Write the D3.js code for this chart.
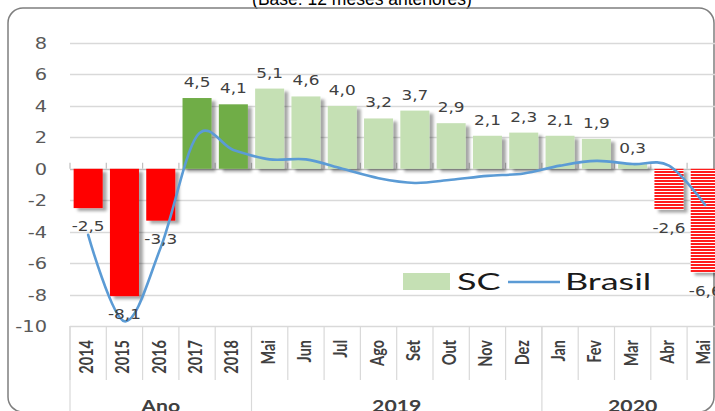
<!DOCTYPE html>
<html>
<head>
<meta charset="utf-8">
<script src="https://cdn.jsdelivr.net/npm/d3@7"></script>
<style>
  html, body { margin: 0; padding: 0; background: #fff; }
  svg { display: block; }
</style>
</head>
<body>
<div id="main"></div>
<script>
/*********************************************************
 * Data
 *********************************************************/
const categories = ['2014', '2015', '2016', '2017', '2018', 'Mai', 'Jun', 'Jul', 'Ago', 'Set', 'Out', 'Nov', 'Dez', 'Jan', 'Fev', 'Mar', 'Abr', 'Mai'];
const groupNames = ['Ano', '2019', '2020'];
const groupSizes = [5, 8, 5];
const scValues = [-2.5, -8.1, -3.3, 4.5, 4.1, 5.1, 4.6, 4.0, 3.2, 3.7, 2.9, 2.1, 2.3, 2.1, 1.9, 0.3, -2.6, -6.6];
const brasilValues = [-4.2, -9.7, -5.0, 2.1, 1.2, 0.6, 0.6, 0.0, -0.6, -0.9, -0.7, -0.45, -0.3, 0.2, 0.5, 0.3, 0.2, -2.3];
// bar style per category: year red, year green, month green, month hatched
const barKinds = ['neg', 'neg', 'neg', 'year', 'year', 'month', 'month', 'month', 'month', 'month', 'month', 'month', 'month', 'month', 'month', 'month', 'hatch', 'hatch'];
const yTicks = [-10, -8, -6, -4, -2, 0, 2, 4, 6, 8];
const titleText = '(Base: 12 meses anteriores)';

/*********************************************************
 * Layout
 *********************************************************/
const svgWidth = 715;
const svgHeight = 411;
const plot = { l: 70, r: 723.4, t: 43, b: 326 };
const stretch = 1.25; // the source picture is stretched sideways

const colors = {
  neg: '#ff0000',
  year: '#70ad47',
  month: '#c5e0b4',
  hatch: 'url(#hatch)',
  line: '#5b9bd5',
  grid: '#d9d9d9',
  text: '#404040'
};

const svg = d3
  .select('#main')
  .append('svg')
  .attr('width', svgWidth)
  .attr('height', svgHeight);

const defs = svg.append('defs');

// horizontal red stripes
const pattern = defs
  .append('pattern')
  .attr('id', 'hatch')
  .attr('patternUnits', 'userSpaceOnUse')
  .attr('width', 6)
  .attr('height', 3);
pattern.append('rect').attr('width', 6).attr('height', 3).attr('fill', '#fff');
pattern.append('rect').attr('width', 6).attr('height', 2).attr('fill', '#ff1a1a');

const shadow = defs
  .append('filter')
  .attr('id', 'shadow')
  .attr('x', '-20%')
  .attr('y', '-20%')
  .attr('width', '150%')
  .attr('height', '150%');
shadow
  .append('feDropShadow')
  .attr('dx', 4)
  .attr('dy', 3)
  .attr('stdDeviation', 1.6)
  .attr('flood-color', '#000')
  .attr('flood-opacity', 0.35);

// scales
const idx = d3.range(categories.length);
const x = d3
  .scaleBand()
  .domain(idx)
  .range([plot.l, plot.r])
  .paddingInner(0.2)
  .paddingOuter(0.1);
const step = x.step();
const edge = i => x(i) - step * 0.1; // left boundary of a category slot
const cx = i => x(i) + x.bandwidth() / 2;

const y = d3.scaleLinear().domain([-10, 8]).range([plot.b, plot.t]);

function stretchedText(parent, px, py, str) {
  return parent
    .append('text')
    .attr('transform', `translate(${px},${py}) scale(${stretch},1)`)
    .text(str);
}

// title (cut off at the top) and frame
svg
  .append('text')
  .attr('x', 362)
  .attr('y', 5)
  .attr('text-anchor', 'middle')
  .style('font-family', 'Liberation Sans, Arial, sans-serif')
  .style('font-size', '17.5px')
  .attr('fill', '#000')
  .text(titleText);

svg
  .append('rect')
  .attr('x', 8)
  .attr('y', 8)
  .attr('width', 706)
  .attr('height', 404)
  .attr('rx', 15)
  .attr('fill', 'none')
  .attr('stroke', '#7f7f7f')
  .attr('stroke-width', 1.5);

/*********************************************************
 * Grid and y labels
 *********************************************************/
const grid = svg.append('g').attr('class', 'grid');
grid
  .selectAll('line')
  .data(yTicks)
  .enter()
  .append('line')
  .attr('x1', plot.l)
  .attr('x2', svgWidth)
  .attr('y1', d => Math.round(y(d)) + 0.5)
  .attr('y2', d => Math.round(y(d)) + 0.5)
  .attr('stroke', d => (d === 0 ? '#bfbfbf' : colors.grid))
  .attr('stroke-width', 1.5);

// tick marks on the zero line
grid
  .selectAll('.tick0')
  .data(d3.range(categories.length + 1))
  .enter()
  .append('line')
  .attr('class', 'tick0')
  .attr('x1', i => (i < categories.length ? edge(i) : plot.r))
  .attr('x2', i => (i < categories.length ? edge(i) : plot.r))
  .attr('y1', y(0) - 6)
  .attr('y2', y(0))
  .attr('stroke', '#bfbfbf')
  .attr('stroke-width', 1.2);

const yLabels = svg
  .append('g')
  .style('font-family', 'DejaVu Sans, Verdana, sans-serif')
  .style('font-size', '15.5px')
  .attr('fill', '#595959')
  .attr('text-anchor', 'end');
yTicks.forEach(t => {
  stretchedText(yLabels, 47, y(t) + 6, t);
});

/*********************************************************
 * Bars
 *********************************************************/
svg
  .append('g')
  .attr('filter', 'url(#shadow)')
  .selectAll('rect')
  .data(idx)
  .enter()
  .append('rect')
  .attr('x', i => x(i))
  .attr('width', x.bandwidth())
  .attr('y', i => y(Math.max(0, scValues[i])))
  .attr('height', i => Math.abs(y(scValues[i]) - y(0)))
  .attr('fill', i => colors[barKinds[i]]);

/*********************************************************
 * Brasil line
 *********************************************************/
const line = d3
  .line()
  .x((d, i) => cx(i))
  .y(d => y(d))
  .curve(d3.curveCardinal.tension(0));

svg
  .append('path')
  .datum(brasilValues)
  .attr('d', line)
  .attr('fill', 'none')
  .attr('stroke', colors.line)
  .attr('stroke-width', 2.6)
  .attr('stroke-linecap', 'round');

/*********************************************************
 * Data labels
 *********************************************************/
const dataLabels = svg
  .append('g')
  .style('font-family', 'DejaVu Sans, Verdana, sans-serif')
  .style('font-size', '13.5px')
  .attr('fill', colors.text)
  .attr('text-anchor', 'middle');
idx.forEach(i => {
  const v = scValues[i];
  const ly = v >= 0 ? y(v) - 11 : y(v) + 23;
  stretchedText(dataLabels, cx(i), ly, v.toFixed(1).replace('.', ','));
});

/*********************************************************
 * Category axis (two levels)
 *********************************************************/
const catAxis = svg.append('g');
// inner dividers
catAxis
  .selectAll('.div')
  .data(idx)
  .enter()
  .append('line')
  .attr('x1', i => edge(i))
  .attr('x2', i => edge(i))
  .attr('y1', plot.b)
  .attr('y2', 380)
  .attr('stroke', colors.grid)
  .attr('stroke-width', 1.2);

// group dividers
const groupStarts = groupSizes.map((s, k) => d3.sum(groupSizes.slice(0, k)));
const groupEdges = groupStarts.concat([categories.length]);
catAxis
  .selectAll('.gdiv')
  .data(groupEdges)
  .enter()
  .append('line')
  .attr('x1', i => (i < categories.length ? edge(i) : plot.r))
  .attr('x2', i => (i < categories.length ? edge(i) : plot.r))
  .attr('y1', plot.b)
  .attr('y2', svgHeight)
  .attr('stroke', colors.grid)
  .attr('stroke-width', 1.2);

const catLabels = catAxis
  .append('g')
  .style('font-family', 'Lato, sans-serif')
  .style('font-weight', 'bold')
  .style('font-size', '14.5px')
  .attr('fill', colors.text)
  .attr('text-anchor', 'end');
idx.forEach(i => {
  catLabels
    .append('text')
    .attr('transform', `translate(${cx(i) + 5},340) scale(${stretch},1) rotate(-90)`)
    .text(categories[i]);
});

const groupLabels = catAxis
  .append('g')
  .style('font-family', 'Lato, sans-serif')
  .style('font-weight', 'bold')
  .style('font-size', '17px')
  .attr('fill', colors.text)
  .attr('text-anchor', 'middle');
groupNames.forEach((g, k) => {
  const a = edge(groupStarts[k]);
  const b = k + 1 < groupNames.length ? edge(groupStarts[k + 1]) : plot.r;
  stretchedText(groupLabels, (a + b) / 2, 412, g);
});

/*********************************************************
 * Legend
 *********************************************************/
const legend = svg.append('g');
legend
  .append('rect')
  .attr('x', 403)
  .attr('y', 273)
  .attr('width', 47)
  .attr('height', 17)
  .attr('fill', colors.month);
legend
  .append('line')
  .attr('x1', 508)
  .attr('x2', 560)
  .attr('y1', 282)
  .attr('y2', 282)
  .attr('stroke', colors.line)
  .attr('stroke-width', 2.6);
const legendText = legend
  .append('g')
  .style('font-family', 'Lato, sans-serif')
  .style('font-size', '24px')
  .attr('fill', '#1a1a1a');
legendText
  .append('text')
  .attr('transform', 'translate(457,290) scale(1.5,1)')
  .text('SC');
legendText
  .append('text')
  .attr('transform', 'translate(565,290) scale(1.5,1)')
  .text('Brasil');
</script>
</body>
</html>
